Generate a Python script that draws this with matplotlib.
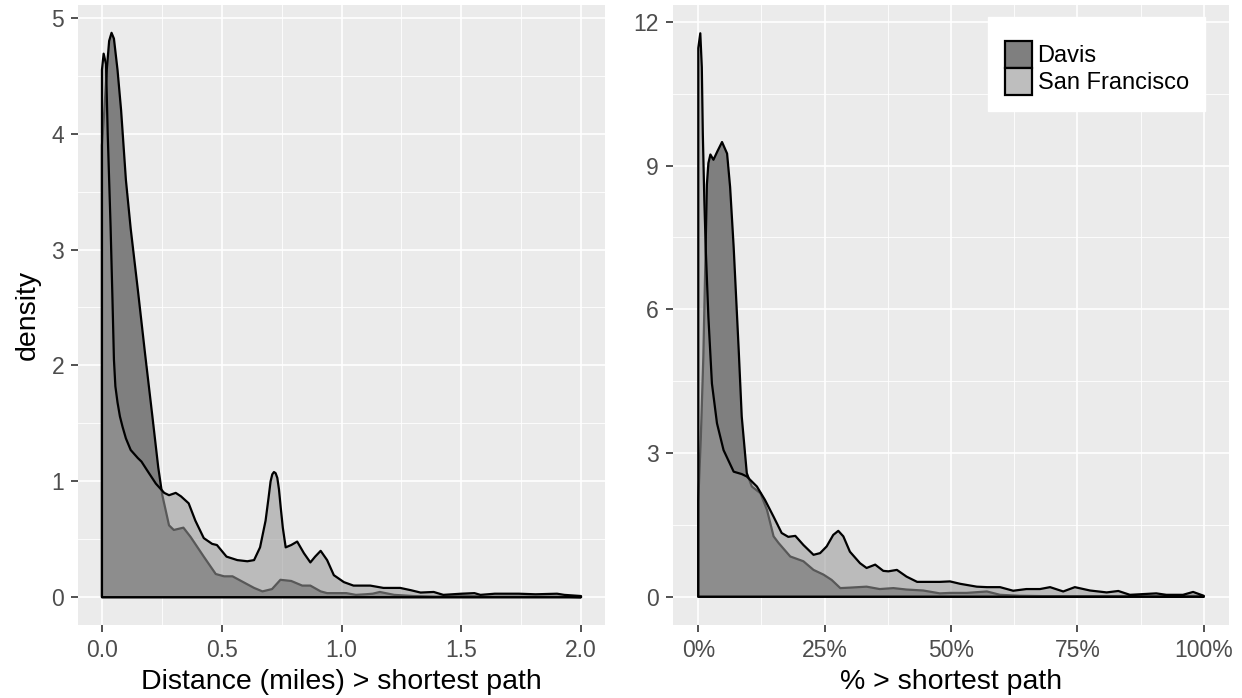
import matplotlib
matplotlib.use("Agg")
import matplotlib.pyplot as plt
from matplotlib.patches import Polygon, Patch
from matplotlib.ticker import MultipleLocator, FuncFormatter

plt.rcParams['font.family'] = ['Liberation Sans', 'DejaVu Sans']

# ---------------- data ----------------
series_names = ["Davis", "San Francisco"]

# Left panel: distance (miles) beyond shortest path
dist_sf_x = [0, 0.007, 0.017, 0.024, 0.036, 0.044, 0.05, 0.056, 0.065, 0.075, 0.086, 0.1,
             0.12, 0.15, 0.165, 0.19, 0.225, 0.26, 0.28, 0.308, 0.33, 0.362, 0.39, 0.425,
             0.46, 0.48, 0.52, 0.565, 0.607, 0.635, 0.66, 0.683, 0.695, 0.704, 0.711,
             0.718, 0.725, 0.732, 0.739, 0.746, 0.755, 0.767, 0.79, 0.815, 0.843, 0.87,
             0.89, 0.913, 0.94, 0.968, 1.01, 1.05, 1.12, 1.175, 1.245, 1.29, 1.33, 1.385,
             1.425, 1.5, 1.555, 1.58, 1.64, 1.74, 1.81, 1.9, 1.93, 2.0]
dist_sf_y = [4.55, 4.69, 4.6, 4.0, 3.2, 2.56, 2.05, 1.82, 1.68, 1.56, 1.47, 1.37,
             1.27, 1.2, 1.17, 1.09, 0.98, 0.9, 0.88, 0.9, 0.87, 0.81, 0.66, 0.51,
             0.46, 0.45, 0.35, 0.32, 0.31, 0.32, 0.43, 0.66, 0.85, 1.0, 1.06,
             1.08, 1.07, 1.03, 0.93, 0.78, 0.6, 0.43, 0.45, 0.48, 0.38, 0.3,
             0.35, 0.4, 0.32, 0.19, 0.13, 0.1, 0.1, 0.08, 0.08, 0.06, 0.04, 0.045,
             0.02, 0.03, 0.035, 0.02, 0.03, 0.03, 0.025, 0.03, 0.02, 0.01]

dist_davis_x = [0, 0.01, 0.02, 0.03, 0.04, 0.05, 0.065, 0.08, 0.1, 0.12, 0.15, 0.18, 0.21,
                0.235, 0.252, 0.28, 0.3, 0.34, 0.37, 0.425, 0.475, 0.51, 0.545, 0.59,
                0.635, 0.67, 0.71, 0.745, 0.79, 0.836, 0.87, 0.913, 0.94, 1.02, 1.06,
                1.1, 1.13, 1.16, 1.22, 1.3, 1.4, 1.5, 1.6, 1.7, 1.8, 1.9, 2.0]
dist_davis_y = [3.9, 4.2, 4.55, 4.8, 4.87, 4.82, 4.55, 4.2, 3.6, 3.18, 2.65, 2.1, 1.57,
                1.12, 0.88, 0.62, 0.58, 0.6, 0.52, 0.35, 0.2, 0.18, 0.18, 0.13,
                0.08, 0.05, 0.07, 0.15, 0.14, 0.1, 0.1, 0.05, 0.035, 0.035, 0.02,
                0.025, 0.03, 0.045, 0.02, 0.01, 0.005, 0.015, 0.005, 0.005, 0.005, 0.005, 0.0]

# Right panel: % beyond shortest path
pct_sf_x = [0, 0.4, 0.7, 0.9, 1.2, 1.5, 2.0, 2.7, 3.7, 5.0, 7.0, 8.6, 9.6, 11.6, 13.2,
            14.9, 16.5, 17.8, 19.2, 20.8, 22.8, 24.1, 25.4, 26.7, 27.7, 28.7, 30.0, 32.0,
            33.3, 35.0, 36.6, 37.6, 39.3, 41.2, 43.3, 47.8, 49.8, 51.8, 55.1, 57.1, 59.7,
            62.3, 64.9, 67.6, 69.6, 72.2, 74.5, 77.5, 80.8, 83.1, 85.4, 90.6, 92.6, 95.9,
            97.9, 100]
pct_sf_y = [11.45, 11.76, 11.05, 9.66, 8.27, 7.2, 5.84, 4.45, 3.62, 3.06, 2.61, 2.56, 2.51,
            2.3, 2.02, 1.67, 1.33, 1.25, 1.27, 1.08, 0.875, 0.91, 1.05, 1.29, 1.375, 1.26,
            0.94, 0.7, 0.6, 0.67, 0.54, 0.53, 0.56, 0.42, 0.31, 0.31, 0.32, 0.27, 0.21, 0.2,
            0.2, 0.125, 0.16, 0.16, 0.2, 0.11, 0.2, 0.13, 0.09, 0.12, 0.04, 0.07, 0.04, 0.04,
            0.1, 0.02]

pct_davis_x = [0, 0.5, 1.0, 1.4, 1.7, 2.0, 2.4, 3.0, 3.8, 4.7, 5.7, 6.3, 7.0, 8.0, 8.6, 9.6,
               10.6, 12.3, 13.6, 14.9, 15.9, 18.2, 20.8, 22.8, 24.8, 26.4, 28.1, 30.0, 33.3,
               35.9, 38.6, 41.2, 44.5, 47.8, 49.8, 53.1, 57.1, 59.7, 63.6, 70, 80, 88, 93, 98,
               100]
pct_davis_y = [2.0, 3.3, 5.0, 7.0, 8.6, 9.05, 9.23, 9.12, 9.3, 9.49, 9.25, 8.55, 7.3, 5.15,
               3.76, 2.58, 2.3, 2.16, 1.81, 1.26, 1.12, 0.84, 0.74, 0.56, 0.46, 0.35, 0.18,
               0.19, 0.21, 0.16, 0.18, 0.15, 0.13, 0.07, 0.08, 0.08, 0.11, 0.04, 0.02, 0.01,
               0.01, 0.02, 0.01, 0.02, 0.01]

# ---------------- style ----------------
BG = '#EBEBEB'
DAVIS_FILL = (0x7f / 255, 0x7f / 255, 0x7f / 255, 1.0)
SF_FILL = (0x99 / 255, 0x99 / 255, 0x99 / 255, 0.575)
LW = 1.6
TICK_COLOR = '#4D4D4D'
TITLE_SIZE = 20.5

fig = plt.figure(figsize=(12.42, 6.98), dpi=100)
axL = fig.add_axes([78 / 1242, 73 / 698, 527 / 1242, 620 / 698])
axR = fig.add_axes([673 / 1242, 73 / 698, 556 / 1242, 620 / 698])


def density(ax, xs, ys, fc):
    pts = [(xs[0], 0)] + list(zip(xs, ys)) + [(xs[-1], 0)]
    poly = Polygon(pts, closed=True, facecolor=fc, edgecolor='black', linewidth=LW,
                   joinstyle='round', zorder=3)
    ax.add_patch(poly)


def style(ax):
    ax.set_facecolor(BG)
    for s in ax.spines.values():
        s.set_visible(False)
    ax.grid(which='major', color='white', linewidth=1.2, zorder=0)
    ax.grid(which='minor', color='white', linewidth=0.6, zorder=0)
    ax.set_axisbelow(True)
    ax.tick_params(which='major', length=5, width=1.2, color='#333333',
                   labelsize=16.5, labelcolor=TICK_COLOR, pad=5)
    ax.tick_params(which='minor', length=0)


# Left panel
density(axL, dist_davis_x, dist_davis_y, DAVIS_FILL)
density(axL, dist_sf_x, dist_sf_y, SF_FILL)
axL.set_xlim(-0.1, 2.1)
axL.set_ylim(-0.24, 5.11)
axL.xaxis.set_major_locator(MultipleLocator(0.5))
axL.xaxis.set_minor_locator(MultipleLocator(0.25))
axL.yaxis.set_major_locator(MultipleLocator(1))
axL.yaxis.set_minor_locator(MultipleLocator(0.5))
axL.xaxis.set_major_formatter(FuncFormatter(lambda v, p: f"{v:.1f}"))
axL.yaxis.set_major_formatter(FuncFormatter(lambda v, p: f"{v:.0f}"))
style(axL)
axL.set_xlabel("Distance (miles) > shortest path", fontsize=TITLE_SIZE, labelpad=5)
axL.set_ylabel("density", fontsize=TITLE_SIZE, labelpad=8)

# Right panel
density(axR, pct_davis_x, pct_davis_y, DAVIS_FILL)
density(axR, pct_sf_x, pct_sf_y, SF_FILL)
axR.set_xlim(-5, 105)
axR.set_ylim(-0.59, 12.35)
axR.xaxis.set_major_locator(MultipleLocator(25))
axR.xaxis.set_minor_locator(MultipleLocator(12.5))
axR.yaxis.set_major_locator(MultipleLocator(3))
axR.yaxis.set_minor_locator(MultipleLocator(1.5))
axR.xaxis.set_major_formatter(FuncFormatter(lambda v, p: f"{v:.0f}%"))
axR.yaxis.set_major_formatter(FuncFormatter(lambda v, p: f"{v:.0f}"))
style(axR)
axR.set_xlabel("% > shortest path", fontsize=TITLE_SIZE, labelpad=5)

handles = [Patch(facecolor='#7f7f7f', edgecolor='black', linewidth=LW),
           Patch(facecolor='#bebebe', edgecolor='black', linewidth=LW)]
leg = axR.legend(handles, series_names, loc='upper left', bbox_to_anchor=(0.5665, 0.98),
                 borderaxespad=0, frameon=True, fancybox=False, facecolor='white',
                 edgecolor='white', framealpha=1, fontsize=17, handlelength=1.15,
                 handleheight=1.38, labelspacing=0.0, handletextpad=0.25, borderpad=0.7,
                 title=' ', title_fontsize=6)
leg.set_zorder(5)

fig.savefig("out.png", dpi=100)
